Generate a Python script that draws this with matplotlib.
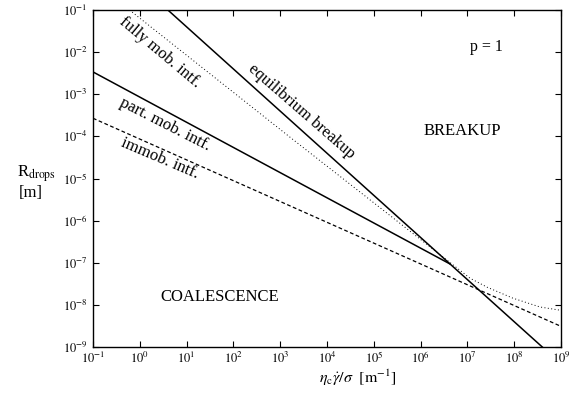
import numpy as np
import matplotlib
matplotlib.use("Agg")
import matplotlib.pyplot as plt
from matplotlib.ticker import FixedLocator

plt.rcParams['font.family'] = ['Liberation Serif', 'DejaVu Serif']
plt.rcParams['mathtext.fontset'] = 'stix'

# --- data (log10 values) ---
equil_logx = [0.6, 8.6]
equil_logR = [-1.0, -9.0]

partmob_logx = [-1.0, 6.63]
partmob_logR = [-2.47, -7.03]

immob_logx = [-1.0, 9.0]
immob_logR = [-3.57, -8.51]

fullmob_logx = [-0.22, 3.21, 7.06, 7.25, 7.42, 7.97, 8.55, 9.0]
fullmob_logR = [-1.0, -4.02, -7.37, -7.48, -7.58, -7.84, -8.05, -8.13]

xtick_exps = [-1, 0, 1, 2, 3, 4, 5, 6, 7, 8, 9]
ytick_exps = [-9, -8, -7, -6, -5, -4, -3, -2, -1]

fig = plt.figure(figsize=(5.8, 3.95), dpi=100)
ax = fig.add_axes([93/580, 1-347/395, (561-93)/580, (347-10)/395])

def p(v):
    return 10.0 ** np.asarray(v)

ax.plot(p(equil_logx), p(equil_logR), color='black', lw=1.1, ls='-')
ax.plot(p(partmob_logx), p(partmob_logR), color='black', lw=1.1, ls='-')
ax.plot(p(immob_logx), p(immob_logR), color='black', lw=0.9, ls=(0, (3, 2)))
ax.plot(p(fullmob_logx), p(fullmob_logR), color='black', lw=0.7, ls=(0, (1, 2.5)))

ax.set_xscale('log')
ax.set_yscale('log')
ax.set_xlim(1e-1, 1e9)
ax.set_ylim(1e-9, 1e-1)

ax.xaxis.set_major_locator(FixedLocator(p(xtick_exps)))
ax.yaxis.set_major_locator(FixedLocator(p(ytick_exps)))
ax.xaxis.set_minor_locator(FixedLocator([]))
ax.yaxis.set_minor_locator(FixedLocator([]))
ax.set_xticklabels([r'$10^{%d}$' % e for e in xtick_exps], fontsize=9)
ax.set_yticklabels([r'$10^{%d}$' % e for e in ytick_exps], fontsize=9)
ax.tick_params(which='both', direction='in', top=True, right=True, length=4, width=0.8)
ax.tick_params(axis='x', pad=2.5)
ax.tick_params(axis='y', pad=4)
for s in ax.spines.values():
    s.set_linewidth(1.0)

# annotations
ax.text(p(0.42), p(-2.0), 'fully mob. intf.', rotation=-40, ha='center', va='center', fontsize=12)
ax.text(p(3.45), p(-3.42), 'equilibrium breakup', rotation=-41, ha='center', va='center', fontsize=12)
ax.text(p(0.55), p(-3.73), 'part. mob. intf.', rotation=-27, ha='center', va='center', fontsize=12)
ax.text(p(0.43), p(-4.52), 'immob. intf.', rotation=-23, ha='center', va='center', fontsize=12)
ax.text(p(7.4), p(-1.88), 'p = 1', ha='center', va='center', fontsize=11.5)
ax.text(p(6.9), p(-3.87), 'BREAKUP', ha='center', va='center', fontsize=12)
ax.text(p(1.7), p(-7.82), 'COALESCENCE', ha='center', va='center', fontsize=12)

fig.text(36/580, 1-174/395, r'R$_{\mathrm{drops}}$', ha='center', va='center', fontsize=12)
fig.text(31/580, 1-193/395, '[m]', ha='center', va='center', fontsize=12)
fig.text(358/580, 1-378/395, r'$\eta_{\mathrm{c}}\dot{\gamma}/\sigma\ \ [\mathrm{m}^{-1}]$',
         ha='center', va='center', fontsize=11.5)

fig.savefig('out.png', dpi=100)
